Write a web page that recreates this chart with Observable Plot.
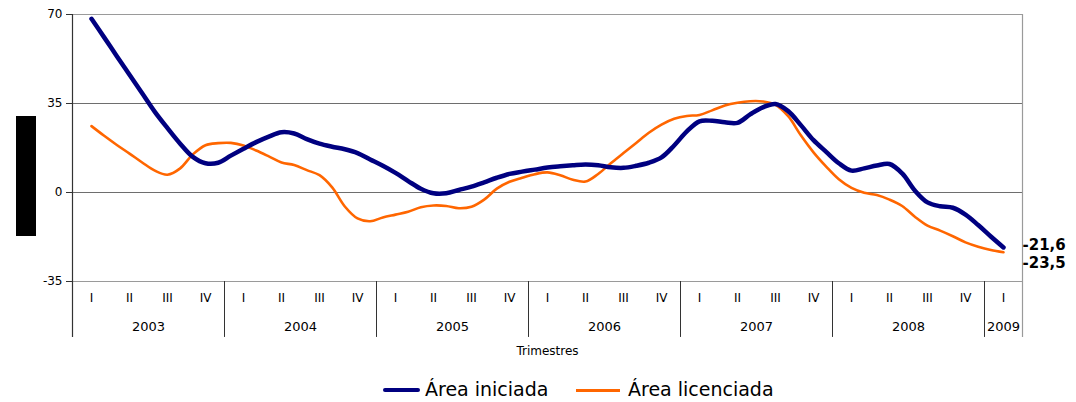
<!DOCTYPE html>
<html>
<head>
<meta charset="utf-8">
<script src="https://cdn.jsdelivr.net/npm/d3@7"></script>
<script src="https://cdn.jsdelivr.net/npm/@observablehq/plot@0.6"></script>
<style>
  html, body { margin: 0; padding: 0; background: #fff; }
  #wrap { position: relative; width: 1076px; height: 402px; background: #fff; font-family: "DejaVu Sans", sans-serif; overflow: hidden; }
  #chart { position: absolute; left: 0; top: 0; }
  .sw { position: absolute; }
  .lt { position: absolute; font-size: 19px; line-height: 22px; color: #000; white-space: nowrap; }
</style>
</head>
<body>
<div id="wrap">
  <div id="chart"></div>
  <div style="position:absolute;left:16px;top:116px;width:20px;height:120px;background:#000"></div>
  <div class="sw" style="left:383px;top:388px;width:37px;height:4px;background:#000080;border-radius:2px"></div>
  <div class="lt" style="left:425px;top:378px">Área iniciada</div>
  <div class="sw" style="left:576px;top:389px;width:44px;height:3px;background:#FF6600"></div>
  <div class="lt" style="left:628px;top:378px">Área licenciada</div>
</div>
<script>
// Monthly values (rolling), from 2003 Q1 to 2009 Q1
const seriesNames = ["Área iniciada", "Área licenciada"];
const iniciada = [
  68.3, 61.0, 53.6, 46.3, 39.0, 31.7, 25.3, 19.2, 14.0, 11.5, 11.7, 14.5,
  17.2, 19.8, 22.0, 23.7, 23.2, 21.0, 19.2, 18.0, 17.0, 15.5, 13.0, 10.5,
  7.7, 4.5, 1.5, -0.3, -0.3, 1.0, 2.3, 4.0, 5.8, 7.3, 8.2, 9.0,
  9.8, 10.3, 10.7, 11.0, 10.7, 9.9, 9.7, 10.5, 11.7, 13.8, 18.5, 24.0,
  28.0, 28.2, 27.6, 27.4, 30.7, 33.5, 34.8, 32.0, 26.5, 20.6, 16.0, 11.5,
  8.6, 9.5, 10.6, 11.2, 7.5, 0.8, -3.9, -5.4, -6.0, -8.7, -12.8, -17.3,
  -21.6
];
const licenciada = [
  26.1, 22.3, 18.7, 15.3, 11.8, 8.6, 7.0, 9.5, 15.0, 18.6, 19.4, 19.5,
  18.5, 16.5, 14.2, 11.8, 10.8, 8.8, 6.8, 2.0, -5.5, -10.2, -11.3, -9.8,
  -8.7, -7.6, -5.8, -5.1, -5.3, -6.2, -5.6, -2.8, 1.5, 4.2, 5.8, 7.2,
  7.9, 6.8, 5.0, 4.3, 7.3, 11.5, 15.5, 19.5, 23.5, 26.7, 29.0, 30.1,
  30.5, 32.3, 34.2, 35.3, 35.9, 35.8, 34.5, 30.0, 22.5, 15.8, 10.2, 5.2,
  1.8, -0.1, -1.0, -2.8, -5.3, -9.5, -13.0, -15.0, -17.2, -19.6, -21.3, -22.6,
  -23.5
];
const endLabels = ["-21,6", "-23,5"];
const quarterLabels = ["I", "II", "III", "IV"];
const years = ["2003", "2004", "2005", "2006", "2007", "2008", "2009"];
const yTicks = [70, 35, 0, -35];
const xTitle = "Trimestres";

const colors = ["#000080", "#FF6600"];
const widths = [4.5, 2.6];

const lineData = [];
iniciada.forEach((v, i) => lineData.push({t: i, v, s: seriesNames[0]}));
licenciada.forEach((v, i) => lineData.push({t: i, v, s: seriesNames[1]}));

const nQ = 25;
const quarters = d3.range(nQ).map(q => ({x: q * 3, label: quarterLabels[q % 4]}));
const yearData = years.map((y, i) => {
  const qs = Math.min(4, nQ - i * 4);
  const x0 = i * 12 - 1.5, x1 = x0 + qs * 3;
  return {label: y, x: (x0 + x1) / 2, x0, x1};
});
const separators = yearData.map(d => d.x1);
const last = iniciada.length - 1;
const endA = [{x: last, y: iniciada[last], text: endLabels[0]}];
const endB = [{x: last, y: licenciada[last], text: endLabels[1]}];

const yLow = -57;
const chart = Plot.plot({
  width: 1076,
  height: 372,
  marginLeft: 72,
  marginRight: 54,
  marginTop: 14,
  marginBottom: 91,
  style: {fontFamily: "'DejaVu Sans', sans-serif", background: "transparent", overflow: "visible"},
  x: {domain: [-1.5, 73.5], axis: null},
  y: {domain: [-35, 70], axis: null},
  marks: [
    Plot.ruleY([70, -35], {stroke: "#9a9a9a", strokeWidth: 1.2}),
    Plot.ruleY([35, 0], {stroke: "#6e6e6e", strokeWidth: 1.2}),
    Plot.ruleX([73.5], {y1: yLow, y2: 70, stroke: "#9a9a9a", strokeWidth: 1.2}),
    Plot.ruleX(separators.slice(0, -1), {y1: yLow, y2: -35, stroke: "#333", strokeWidth: 1}),
    Plot.ruleX([-1.5], {y1: yLow, y2: 70, stroke: "#333", strokeWidth: 1.2}),
    Plot.axisY(yTicks, {tickSize: 6, tickPadding: 4, tickFormat: d => String(d), fontSize: 12, stroke: "#333", color: "#000"}),
    Plot.text(quarters, {x: "x", y: () => -35, text: "label", dy: 17, fontSize: 12, fill: "#000"}),
    Plot.text(yearData, {x: "x", y: () => -35, text: "label", dy: 45, fontSize: 13, fill: "#000"}),
    Plot.text([xTitle], {frameAnchor: "bottom", dy: 73, fontSize: 12, fill: "#000"}),
    Plot.line(lineData.filter(d => d.s === seriesNames[1]), {x: "t", y: "v", stroke: colors[1], strokeWidth: widths[1], strokeLinejoin: "round", strokeLinecap: "round", curve: "catmull-rom"}),
    Plot.line(lineData.filter(d => d.s === seriesNames[0]), {x: "t", y: "v", stroke: colors[0], strokeWidth: widths[0], strokeLinejoin: "round", strokeLinecap: "round", curve: "catmull-rom"}),
    Plot.text(endA, {x: "x", y: "y", text: "text", dx: 19, dy: -2, textAnchor: "start", fontSize: 15, fontWeight: "bold", fill: "#000"}),
    Plot.text(endB, {x: "x", y: "y", text: "text", dx: 19, dy: 11, textAnchor: "start", fontSize: 15, fontWeight: "bold", fill: "#000"})
  ]
});
document.getElementById("chart").appendChild(chart);
</script>
</body>
</html>
